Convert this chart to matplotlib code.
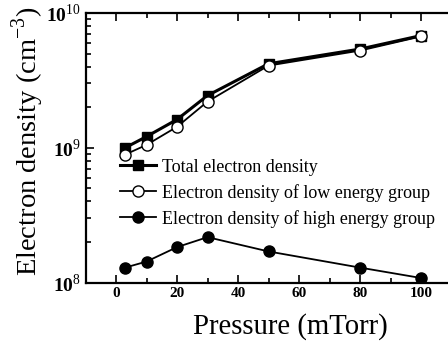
"""Electron density vs pressure, log scale."""

import math
import matplotlib
matplotlib.use('Agg')
import matplotlib.pyplot as plt
from matplotlib.ticker import FuncFormatter, MultipleLocator, LogLocator

plt.rcParams['font.family'] = 'Liberation Serif'
plt.rcParams['mathtext.fontset'] = 'custom'
plt.rcParams['mathtext.rm'] = 'Liberation Serif'
plt.rcParams['mathtext.bf'] = 'Liberation Serif:bold'

pressure = [3, 10, 20, 30, 50, 80, 100]
total = [1.0e9, 1.21e9, 1.62e9, 2.44e9, 4.2e9, 5.4e9, 6.8e9]
low = [8.9e8, 1.05e9, 1.43e9, 2.2e9, 4.07e9, 5.26e9, 6.7e9]
high = [1.29e8, 1.43e8, 1.83e8, 2.17e8, 1.70e8, 1.29e8, 1.08e8]

labels = ['Total electron density',
          'Electron density of low energy group',
          'Electron density of high energy group']


def main():
    fig = plt.figure(figsize=(4.48, 3.47), dpi=100)
    ax = fig.add_axes([85.5/448, 1 - 282.5/347, 366/448, 269.5/347])

    ax.plot(pressure, total, '-s', color='black', lw=2.2, ms=7,
            mfc='black', label=labels[0])
    ax.plot(pressure, low, '-o', color='black', lw=1.3, ms=8,
            mfc='white', mec='black', label=labels[1])
    ax.plot(pressure, high, '-o', color='black', lw=1.3, ms=8,
            mfc='black', label=labels[2])

    ax.set_yscale('log')
    ax.set_xlim(-10, 110)
    ax.set_ylim(1e8, 1e10)

    ax.xaxis.set_major_locator(MultipleLocator(20))
    ax.xaxis.set_minor_locator(MultipleLocator(10))
    ax.yaxis.set_major_locator(LogLocator(base=10))
    ax.yaxis.set_minor_locator(LogLocator(base=10, subs=range(2, 10)))
    ax.yaxis.set_major_formatter(
        FuncFormatter(lambda v, p: r'$\mathbf{10}^{%d}$' % round(math.log10(v))))

    ax.tick_params(which='both', direction='in', top=True, right=False,
                   width=1.2)
    ax.tick_params(which='major', length=6, labelsize=11)
    ax.tick_params(which='minor', length=3.5)
    for lab in ax.get_xticklabels():
        lab.set_fontweight('bold')
    ax.tick_params(axis='y', labelsize=14)
    for s in ax.spines.values():
        s.set_linewidth(1.6)

    ax.set_xlabel('Pressure (mTorr)', fontsize=20.7)
    ax.xaxis.set_label_coords(0.559, -0.115)
    ax.set_ylabel(r'Electron density (cm$^{-3}$)', fontsize=20.5)
    ax.yaxis.set_label_coords(-0.108, 0.525)

    ax.legend(loc='upper left', bbox_to_anchor=(0.075, 0.486), frameon=False,
              fontsize=13, handlelength=2.0, handletextpad=0.3,
              labelspacing=0.45, borderaxespad=0, numpoints=1)

    fig.savefig('out.png', dpi=100)


main()
